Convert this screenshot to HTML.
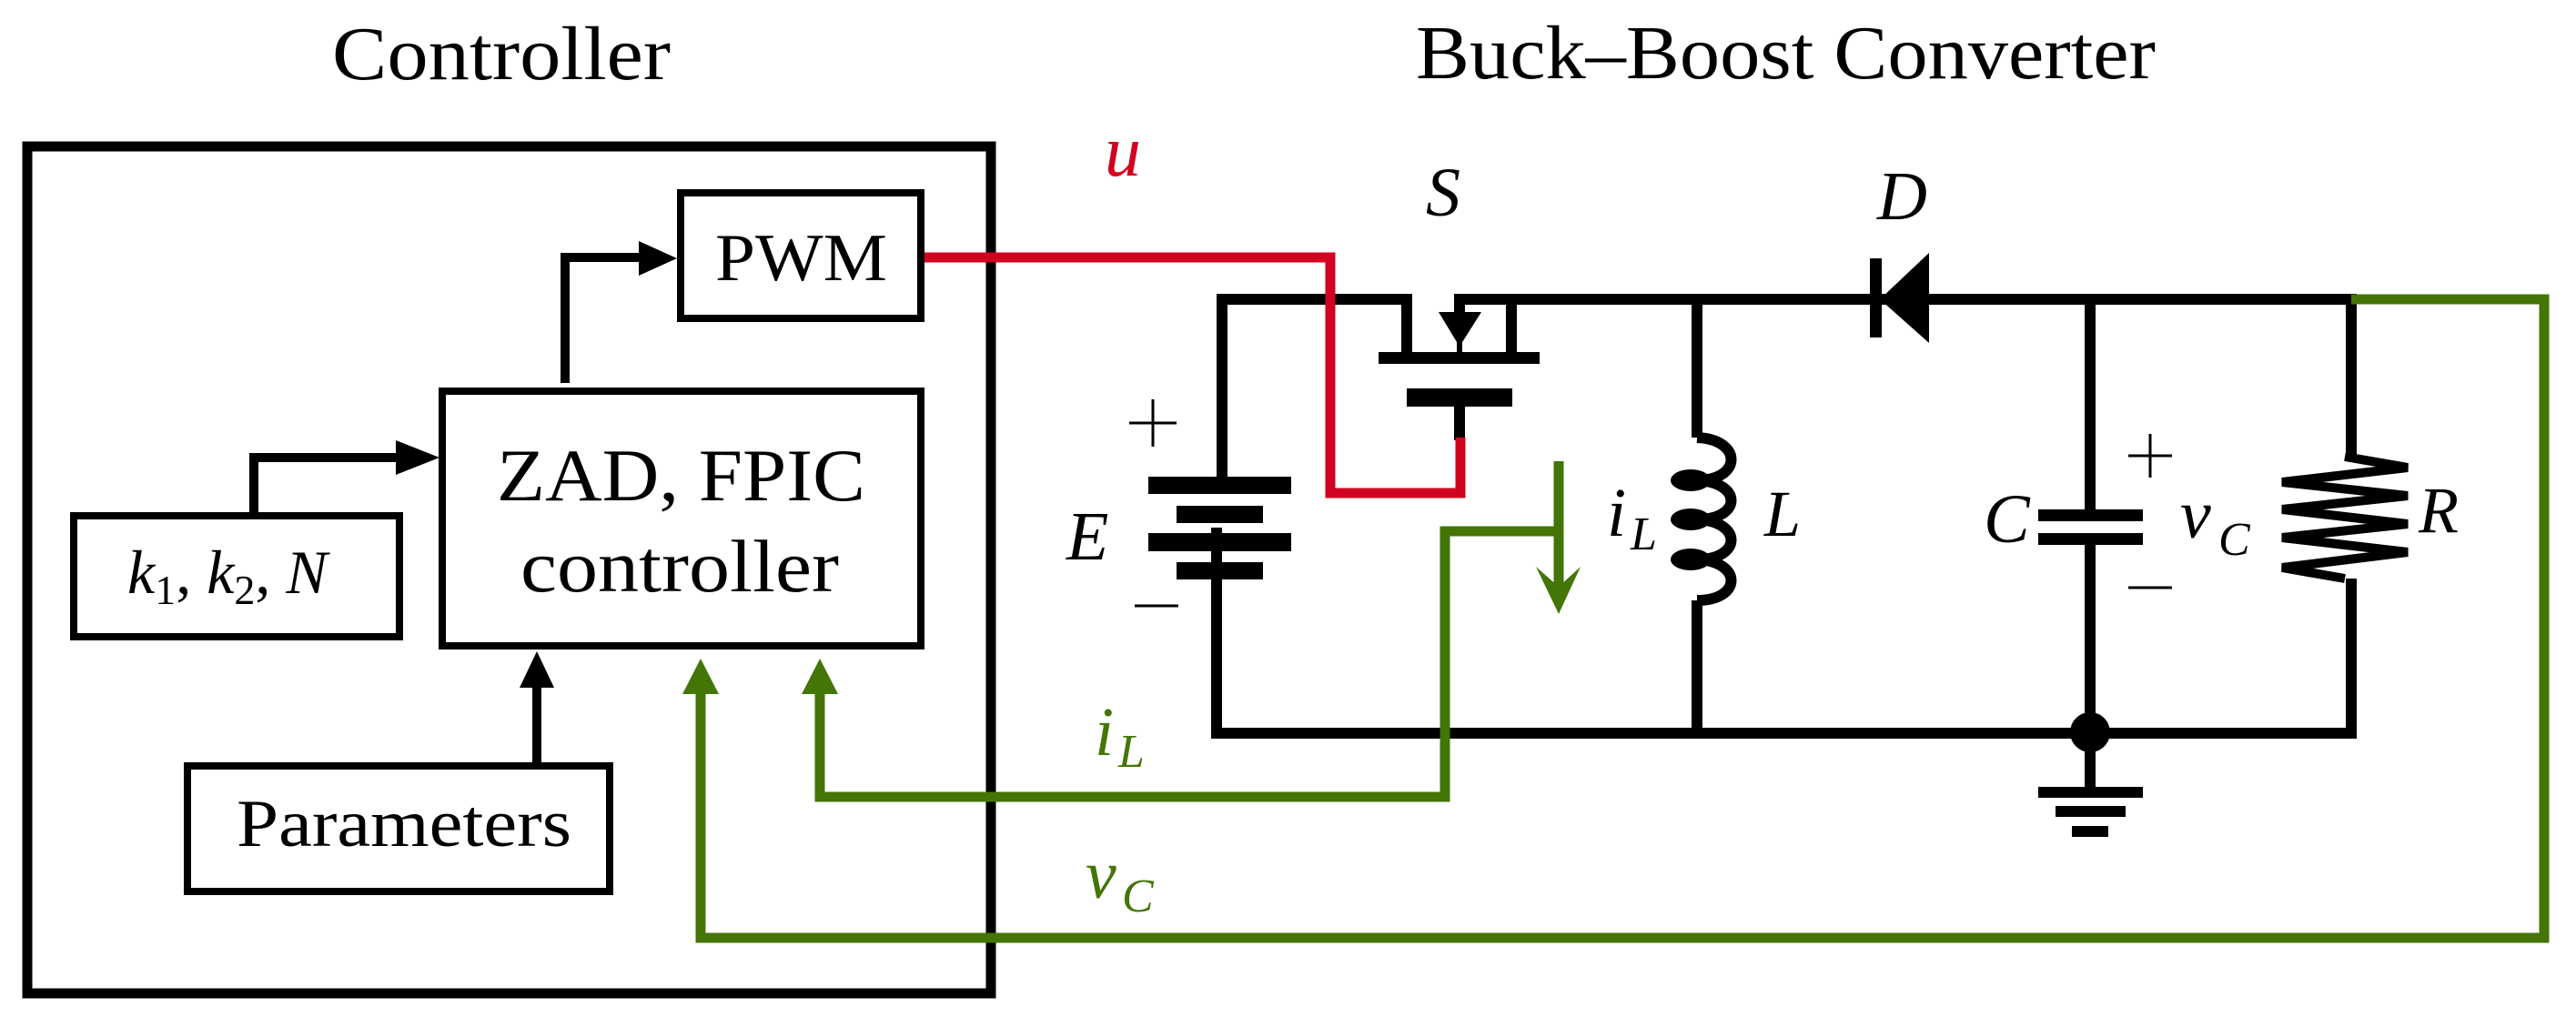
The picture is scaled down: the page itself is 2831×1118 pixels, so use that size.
<!DOCTYPE html>
<html><head><meta charset="utf-8"><style>html,body{margin:0;padding:0;background:#fff}svg{display:block}svg text{font-family:"Liberation Serif","DejaVu Serif",serif}</style></head>
<body>
<svg width="2831" height="1118" viewBox="0 0 2831 1118" xmlns="http://www.w3.org/2000/svg">
<rect width="2831" height="1118" fill="#fff"/>
<!-- Titles -->
<text x="365" y="87" font-size="84" textLength="372" lengthAdjust="spacingAndGlyphs">Controller</text>
<text x="1556" y="86" font-size="84" textLength="813" lengthAdjust="spacingAndGlyphs">Buck–Boost Converter</text>

<!-- Controller box -->
<rect x="30" y="161" width="1059" height="931" fill="none" stroke="#000" stroke-width="11"/>
<g fill="none" stroke="#000" stroke-width="8">
<rect x="748" y="212" width="264" height="138"/>
<rect x="486" y="430" width="526" height="280"/>
<rect x="81" y="567" width="358" height="133"/>
<rect x="206" y="842" width="464" height="138"/>
</g>
<text x="786" y="308" font-size="74" textLength="189" lengthAdjust="spacingAndGlyphs">PWM</text>
<text x="546" y="550" font-size="82" textLength="405" lengthAdjust="spacingAndGlyphs">ZAD, FPIC</text>
<text x="572" y="650" font-size="82" textLength="350" lengthAdjust="spacingAndGlyphs">controller</text>
<text x="140" y="652" font-size="68"><tspan font-style="italic">k</tspan><tspan font-size="46" dy="12">1</tspan><tspan dy="-12">, </tspan><tspan font-style="italic">k</tspan><tspan font-size="46" dy="12">2</tspan><tspan dy="-12">, </tspan><tspan font-style="italic">N</tspan></text>
<text x="260" y="930" font-size="74" textLength="368" lengthAdjust="spacingAndGlyphs">Parameters</text>

<!-- black arrows -->
<g fill="none" stroke="#000" stroke-width="10">
<polyline points="621,421 621,283 704,283"/>
<polyline points="279,567 279,503 437,503"/>
<line x1="590" y1="842" x2="590" y2="754"/>
</g>
<polygon points="702,265 744,284 702,303" fill="#000"/>
<polygon points="435,484 483,503 435,522" fill="#000"/>
<polygon points="571,756 590,716 609,756" fill="#000"/>

<!-- Circuit black wiring -->
<g fill="none" stroke="#000" stroke-width="12">
<polyline points="1337,580 1337,806 2584,806 2584,636"/>
<polyline points="1343,526 1343,329 1546,329 1546,390"/>
<polyline points="1604,343 1604,329 2584,329 2584,502"/>
<line x1="1661" y1="329" x2="1661" y2="390"/>
<line x1="1604" y1="447" x2="1604" y2="484"/>
<line x1="1865" y1="329" x2="1865" y2="481"/>
<line x1="1865" y1="660" x2="1865" y2="806"/>
<line x1="2297" y1="329" x2="2297" y2="562"/>
<line x1="2297" y1="598" x2="2297" y2="871"/>
<path d="M1865,481 C1915,483 1915,528 1865,528 C1915,530 1915,571 1865,571 C1915,573 1915,615 1865,615 C1915,617 1915,660 1865,660"/>
</g>
<polyline fill="none" stroke="#000" stroke-width="10" points="2577,502 2646,514 2508,530 2646,545 2508,560 2646,576 2508,591 2646,607 2508,624 2577,636"/>
<line x1="1604" y1="375" x2="1604" y2="390" stroke="#000" stroke-width="6"/>
<ellipse cx="1858" cy="528" rx="22" ry="12" fill="#000"/>
<ellipse cx="1858" cy="571" rx="22" ry="12" fill="#000"/>
<ellipse cx="1858" cy="615" rx="22" ry="12" fill="#000"/>
<polygon points="1581,343 1628,343 1604,381" fill="#000"/>
<!-- MOSFET bars -->
<rect x="1515" y="387" width="177" height="13" fill="#000"/>
<rect x="1546" y="427" width="116" height="20" fill="#000"/>
<!-- battery -->
<rect x="1262" y="524" width="157" height="19" fill="#000"/>
<rect x="1293" y="556" width="95" height="19" fill="#000"/>
<rect x="1262" y="586" width="157" height="20" fill="#000"/>
<rect x="1293" y="618" width="95" height="19" fill="#000"/>
<!-- diode -->
<rect x="2055" y="284" width="13" height="87" fill="#000"/>
<polygon points="2120,278 2120,377 2066,329" fill="#000"/>
<!-- capacitor -->
<rect x="2240" y="560" width="115" height="13" fill="#000"/>
<rect x="2240" y="586" width="115" height="13" fill="#000"/>
<!-- node + ground -->
<circle cx="2297" cy="805" r="22" fill="#000"/>
<rect x="2240" y="865" width="115" height="12" fill="#000"/>
<rect x="2259" y="886" width="77" height="12" fill="#000"/>
<rect x="2277" y="908" width="40" height="12" fill="#000"/>
<!-- +/- signs -->
<g stroke="#000" stroke-width="3">
<line x1="1241" y1="465" x2="1293" y2="465"/><line x1="1267" y1="439" x2="1267" y2="491"/>
<line x1="1247" y1="666" x2="1295" y2="666"/>
<line x1="2339" y1="501" x2="2387" y2="501"/><line x1="2363" y1="477" x2="2363" y2="525"/>
<line x1="2339" y1="646" x2="2387" y2="646"/>
</g>

<!-- red control -->
<polyline points="1016,283 1462,283 1462,542 1605,542 1605,481" fill="none" stroke="#d0021f" stroke-width="11"/>
<!-- green feedback -->
<g fill="none" stroke="#447507" stroke-width="11">
<polyline points="2584,329 2796,329 2796,1031 770,1031 770,760"/>
<polyline points="1713,584 1588,584 1588,876 901,876 901,760"/>
<line x1="1713" y1="507" x2="1713" y2="660"/>
</g>
<polygon points="750,763 770,724 790,763" fill="#447507"/>
<polygon points="881,763 901,724 921,763" fill="#447507"/>
<polygon points="1688,623 1713,675 1737,623 1713,645" fill="#447507"/>

<!-- labels -->
<g font-style="italic">
<text x="1214" y="193" font-size="80" fill="#d0021f">u</text>
<text x="1567" y="237" font-size="76">S</text>
<text x="2063" y="241" font-size="76">D</text>
<text x="1172" y="615" font-size="76">E</text>
<text x="1766" y="589" font-size="76">i</text>
<text x="1792" y="604" font-size="52">L</text>
<text x="1939" y="589" font-size="72">L</text>
<text x="2180" y="596" font-size="76">C</text>
<text x="2396" y="591" font-size="76">v</text>
<text x="2438" y="610" font-size="52">C</text>
<text x="2658" y="585" font-size="72">R</text>
<text x="1203" y="830" font-size="76" fill="#447507">i</text>
<text x="1229" y="843" font-size="52" fill="#447507">L</text>
<text x="1193" y="987" font-size="76" fill="#447507">v</text>
<text x="1233" y="1002" font-size="52" fill="#447507">C</text>
</g>
</svg>
</body></html>
